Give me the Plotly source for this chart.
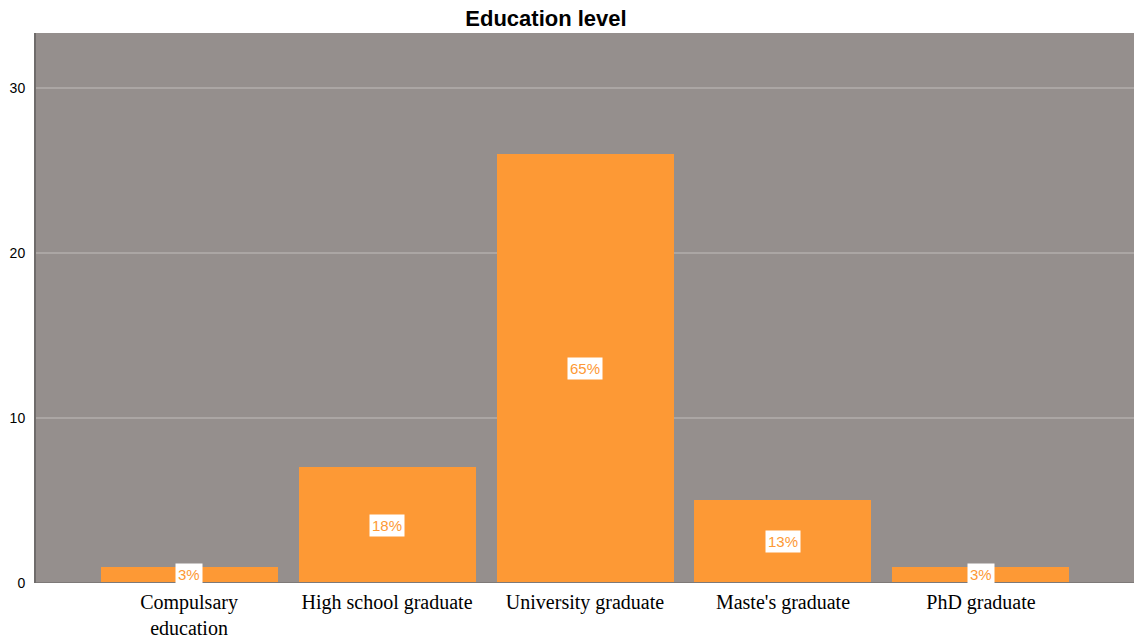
import plotly.graph_objects as go

# Education level counts
categories = ["Compulsary<br>education", "High school graduate", "University graduate",
              "Maste's graduate", "PhD graduate"]
counts = [1, 7, 26, 5, 1]
percent_labels = ["3%", "18%", "65%", "13%", "3%"]

BAR = "#fd9935"
BG = "#958f8d"

fig = go.Figure()
fig.add_trace(go.Bar(
    x=list(range(len(categories))),
    y=counts,
    width=0.894,
    marker=dict(color=BAR, line=dict(width=0)),
    hoverinfo="skip",
))

# Percentage labels centred in each bar
for i, (c, lab) in enumerate(zip(counts, percent_labels)):
    fig.add_annotation(
        x=i, y=c / 2, text=lab, showarrow=False,
        font=dict(family="Arial, Liberation Sans, sans-serif", size=15, color=BAR),
        bgcolor="white", borderpad=2,
    )

fig.update_layout(
    width=1134, height=639,
    margin=dict(l=36, r=0, t=33, b=56),
    paper_bgcolor="white",
    plot_bgcolor=BG,
    showlegend=False,
    bargap=0,
    title=dict(
        text="<b>Education level</b>",
        x=546 / 1134, xref="container", xanchor="center",
        y=1 - 18 / 639, yref="container", yanchor="middle",
        font=dict(family="Arial, Liberation Sans, sans-serif", size=22, color="black"),
    ),
)

fig.update_xaxes(
    tickmode="array",
    tickvals=list(range(len(categories))),
    ticktext=categories,
    range=[-0.773, 4.773],
    showgrid=False,
    zeroline=False,
    ticks="",
    showline=False,
    ticklabelstandoff=5,
    tickfont=dict(family="Liberation Serif, Times New Roman, serif", size=20, color="black"),
    fixedrange=True,
)
fig.update_yaxes(
    range=[0, 33.33],
    tickvals=[0, 10, 20, 30],
    showgrid=True,
    gridcolor="#aba6a4",
    gridwidth=1.5,
    zeroline=False,
    showline=True,
    linecolor="#6f6c6b",
    linewidth=2,
    ticks="",
    ticklabelstandoff=6,
    tickfont=dict(family="Arial, Liberation Sans, sans-serif", size=14, color="black"),
    fixedrange=True,
)

# Bottom axis line along the baseline
fig.add_shape(type="line", xref="paper", yref="y", x0=0, x1=1, y0=0, y1=0,
              line=dict(color="#7d7978", width=2), layer="above")

fig.write_html("out.html")
